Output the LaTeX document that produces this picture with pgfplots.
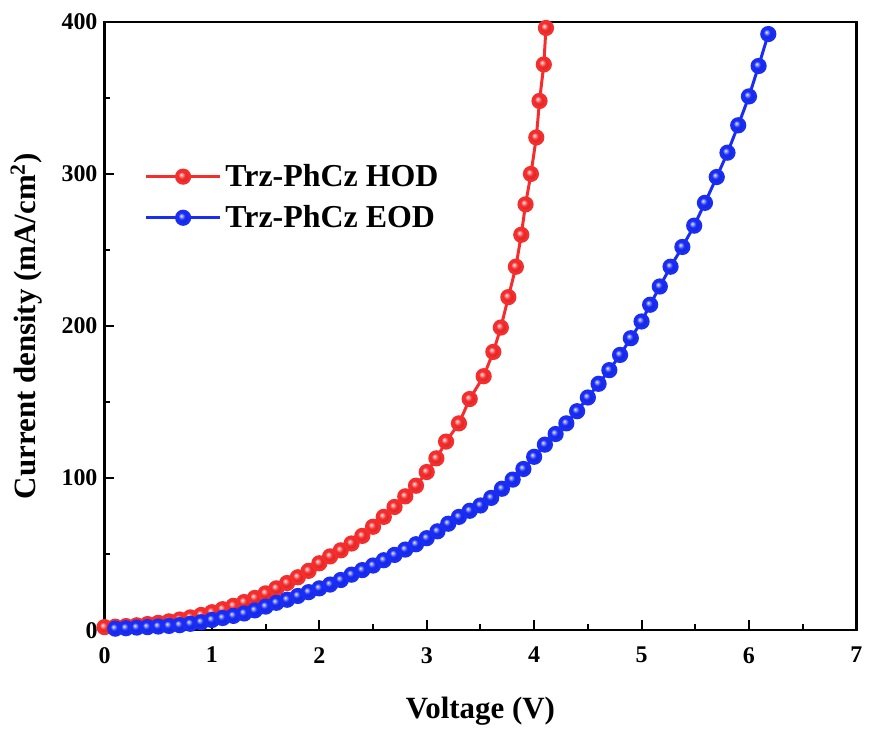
\documentclass[border=0pt]{standalone}
\usepackage{fontspec}
\setmainfont{Liberation Serif}
\usepackage{pgfplots}
\pgfplotsset{compat=1.18}

\definecolor{hodred}{RGB}{245,45,45}
\definecolor{eodblue}{RGB}{25,45,245}

% brighter ball shading, closer to the reference spheres
\makeatletter
\pgfdeclareradialshading[tikz@ball]{ball}{\pgfqpoint{-8bp}{8bp}}{%
  color(0bp)=(tikz@ball!8!white);
  color(6bp)=(tikz@ball!55!white);
  color(13bp)=(tikz@ball);
  color(22bp)=(tikz@ball!88!black);
  color(26bp)=(tikz@ball!75!black);
  color(50bp)=(tikz@ball!60!black)}
\makeatother

\begin{document}
\begin{tikzpicture}
\begin{axis}[
    width=377pt, height=305pt, scale only axis,
    xmin=0, xmax=7, ymin=0, ymax=400,
    xtick={0,1,...,7}, ytick={0,100,...,400},
    minor xtick={0.5,1.5,...,6.5}, minor ytick={50,150,250,350},
    tick align=inside, xtick pos=left, ytick pos=left,
    major tick length=5pt, minor tick length=3pt,
    every tick/.style={black, line width=1pt},
    axis line style={line width=1.2pt},
    /pgf/number format/assume math mode=true,
    ticklabel style={font=\fontsize{12}{14}\selectfont\bfseries},
    xticklabel style={yshift=-5pt},
    xlabel={Voltage (V)}, ylabel={Current density (mA/cm\textsuperscript{2})},
    label style={font=\fontsize{15.5}{18}\selectfont\bfseries},
    xlabel style={yshift=-10pt},
    ylabel style={yshift=3pt},
    legend style={draw=none, fill=none, at={(0.045,0.78)}, anchor=north west,
        font=\fontsize{16}{18}\selectfont\bfseries, row sep=4pt,
        /tikz/every even column/.append style={column sep=2pt}},
    legend cell align=left,
    legend image code/.code={\draw[mark repeat=2, mark phase=2, #1]
        plot coordinates {(0cm,0cm) (0.65cm,0cm) (1.3cm,0cm)};},
    clip mode=individual,
]
\path (rel axis cs:-0.139,-0.151) rectangle (rel axis cs:1.0133,1.036);

\addplot[hodred, line width=1.5pt, mark=ball, mark size=3.3pt,
    mark options={ball color=hodred}] coordinates {
(0.0,2.0) (0.1,2.3) (0.2,2.7) (0.3,3.2) (0.4,4.0) (0.5,4.8) (0.6,5.8)
(0.7,7.0) (0.8,8.4) (0.9,10.0) (1.0,11.8) (1.1,13.8) (1.2,16.0) (1.3,18.5)
(1.4,21.2) (1.5,24.2) (1.6,27.5) (1.7,31.0) (1.8,34.8) (1.9,39.0) (2.0,44.0)
(2.1,48.5) (2.2,52.5) (2.3,57) (2.4,62) (2.5,68) (2.6,74.5) (2.7,81)
(2.8,88) (2.9,95) (3.0,104) (3.09,113) (3.18,124) (3.30,136) (3.40,152)
(3.53,167) (3.62,183) (3.69,199) (3.76,219) (3.83,239) (3.88,260) (3.92,280)
(3.97,300) (4.02,324) (4.05,348) (4.09,372) (4.11,396)
};
\addlegendentry{Trz-PhCz HOD}

\addplot[eodblue, line width=1.5pt, mark=ball, mark size=3.3pt,
    mark options={ball color=eodblue}] coordinates {
(0.1,1.0) (0.2,1.3) (0.3,1.7) (0.4,2.0) (0.5,2.4) (0.6,2.8) (0.7,3.3)
(0.8,4.2) (0.9,5.2) (1.0,6.7) (1.1,8.0) (1.2,9.4) (1.3,11.0) (1.4,13.0)
(1.5,15.5) (1.6,18) (1.7,20) (1.8,22.5) (1.9,25) (2.0,27.5) (2.1,30)
(2.2,33) (2.3,36.5) (2.4,39.5) (2.5,42.5) (2.6,46) (2.7,49.5) (2.8,53)
(2.9,56.5) (3.0,60.5) (3.1,65) (3.2,70) (3.3,74.5) (3.4,78.5) (3.5,82)
(3.6,87) (3.7,93) (3.8,99) (3.9,106) (4.0,114) (4.1,122) (4.2,129)
(4.3,136) (4.4,144) (4.5,153) (4.6,162) (4.7,171) (4.8,181) (4.9,192)
(5.0,203) (5.08,214) (5.17,226) (5.27,239) (5.38,252) (5.49,266) (5.59,281)
(5.70,298) (5.80,314) (5.90,332) (6.0,351) (6.09,371) (6.18,392)
};
\addlegendentry{Trz-PhCz EOD}
\end{axis}
\end{tikzpicture}
\end{document}
